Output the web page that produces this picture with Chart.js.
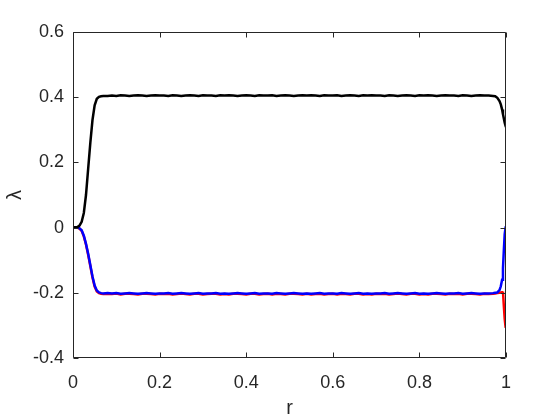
<!DOCTYPE html>
<html>
<head>
<meta charset="utf-8">
<script src="https://cdn.jsdelivr.net/npm/chart.js@4/dist/chart.umd.min.js"></script>
<style>
html,body{margin:0;padding:0;background:#fff;}
#wrap{width:560px;height:420px;}
</style>
</head>
<body>
<div id="wrap"><canvas id="c" width="560" height="420"></canvas></div>
<script>
// ---- data ----
const rValues = [
  0,0.005,0.01,0.015,0.02,0.025,0.03,0.035,0.04,0.045,0.05,0.055,0.06,0.065,0.07,
  0.08,0.09,0.10,0.11,0.12,0.13,0.14,0.15,0.16,0.17,
  0.18,0.19,0.20,0.21,0.22,0.23,0.24,0.25,0.26,0.27,
  0.28,0.29,0.30,0.31,0.32,0.33,0.34,0.35,0.36,0.37,
  0.38,0.39,0.40,0.41,0.42,0.43,0.44,0.45,0.46,0.47,
  0.48,0.49,0.50,0.51,0.52,0.53,0.54,0.55,0.56,0.57,
  0.58,0.59,0.60,0.61,0.62,0.63,0.64,0.65,0.66,0.67,
  0.68,0.69,0.70,0.71,0.72,0.73,0.74,0.75,0.76,0.77,
  0.78,0.79,0.80,0.81,0.82,0.83,0.84,0.85,0.86,0.87,
  0.88,0.89,0.90,0.91,0.92,0.93,0.94,0.95,0.96,0.97,
  0.975,0.98,0.985,0.988,0.991,0.993,0.995,0.997,0.999,1.0
];
const lambdaBlack = [
  0,0.001,0.002,0.006,0.018,0.045,0.10,0.18,0.26,0.33,0.375,0.395,0.401,0.403,0.404,
  0.404,0.405,0.404,0.406,0.405,0.404,0.405,0.406,0.405,0.404,
  0.405,0.406,0.405,0.405,0.404,0.406,0.405,0.404,0.405,0.406,
  0.405,0.404,0.406,0.405,0.405,0.404,0.406,0.405,0.406,0.405,
  0.404,0.405,0.406,0.405,0.404,0.406,0.405,0.405,0.406,0.404,
  0.405,0.406,0.405,0.404,0.405,0.406,0.405,0.406,0.405,0.404,
  0.406,0.405,0.405,0.406,0.404,0.405,0.406,0.405,0.404,0.406,
  0.405,0.406,0.405,0.405,0.404,0.406,0.405,0.404,0.405,0.406,
  0.405,0.404,0.406,0.405,0.406,0.405,0.404,0.405,0.406,0.405,
  0.405,0.404,0.406,0.405,0.404,0.405,0.406,0.405,0.405,0.404,
  0.403,0.398,0.388,0.378,0.362,0.348,0.335,0.322,0.312,0.308
];
const lambdaBlue = [
  0,0,0,-0.002,-0.008,-0.025,-0.05,-0.08,-0.115,-0.15,-0.178,-0.193,-0.199,-0.201,-0.202,
  -0.201,-0.202,-0.201,-0.203,-0.202,-0.201,-0.202,-0.203,-0.202,-0.201,
  -0.202,-0.203,-0.202,-0.202,-0.201,-0.203,-0.202,-0.201,-0.202,-0.203,
  -0.202,-0.201,-0.203,-0.202,-0.202,-0.201,-0.203,-0.202,-0.203,-0.202,
  -0.201,-0.202,-0.203,-0.202,-0.201,-0.203,-0.202,-0.202,-0.203,-0.201,
  -0.202,-0.203,-0.202,-0.201,-0.202,-0.203,-0.202,-0.203,-0.202,-0.201,
  -0.203,-0.202,-0.202,-0.203,-0.201,-0.202,-0.203,-0.202,-0.201,-0.203,
  -0.202,-0.203,-0.202,-0.202,-0.201,-0.203,-0.202,-0.201,-0.202,-0.203,
  -0.202,-0.201,-0.203,-0.202,-0.203,-0.202,-0.201,-0.202,-0.203,-0.202,
  -0.202,-0.201,-0.203,-0.202,-0.201,-0.202,-0.203,-0.202,-0.202,-0.201,
  -0.200,-0.199,-0.192,-0.180,-0.160,-0.125,-0.070,-0.020,0.0,0.0
];
const lambdaRed = [
  0,0,0,-0.003,-0.010,-0.027,-0.052,-0.083,-0.118,-0.153,-0.181,-0.196,-0.201,-0.203,-0.204,
  -0.203,-0.204,-0.202,-0.205,-0.203,-0.203,-0.204,-0.205,-0.203,-0.203,
  -0.204,-0.205,-0.203,-0.204,-0.203,-0.205,-0.204,-0.202,-0.204,-0.205,
  -0.203,-0.203,-0.205,-0.204,-0.203,-0.203,-0.205,-0.204,-0.205,-0.203,
  -0.203,-0.204,-0.205,-0.203,-0.203,-0.205,-0.204,-0.203,-0.205,-0.203,
  -0.204,-0.205,-0.203,-0.203,-0.204,-0.205,-0.203,-0.205,-0.204,-0.203,
  -0.205,-0.204,-0.203,-0.205,-0.203,-0.204,-0.205,-0.203,-0.203,-0.205,
  -0.204,-0.205,-0.203,-0.204,-0.203,-0.205,-0.204,-0.202,-0.204,-0.205,
  -0.203,-0.203,-0.205,-0.204,-0.205,-0.203,-0.203,-0.204,-0.205,-0.203,
  -0.204,-0.203,-0.205,-0.203,-0.203,-0.204,-0.205,-0.203,-0.204,-0.203,
  -0.202,-0.201,-0.200,-0.199,-0.198,-0.196,-0.240,-0.280,-0.305,-0.306
];
const xTicks = [0,0.2,0.4,0.6,0.8,1];
const yTicks = [-0.4,-0.2,0,0.2,0.4,0.6];
const xLabel = 'r';
const yLabel = 'λ';

// ---- chart ----
const axisColor = '#262626';
const fmt = v => String(Number(v.toFixed(1)));
const toPts = ys => rValues.map((r,i)=>({x:r,y:ys[i]}));

const boxPlugin = {
  id:'matlabBox',
  afterDatasetsDraw(chart){
    const {ctx, chartArea:a, scales} = chart;
    const L = Math.round(a.left)+0.5, R = Math.round(a.right)-0.5;
    const T = Math.round(a.top)+0.5, B = Math.round(a.bottom)-0.5;
    ctx.save();
    ctx.strokeStyle = axisColor;
    ctx.lineWidth = 1;
    ctx.beginPath();
    ctx.rect(L, T, R-L, B-T);
    const tl = 5;
    xTicks.forEach(v=>{
      const px = Math.round(scales.x.getPixelForValue(v))+0.5;
      ctx.moveTo(px,B); ctx.lineTo(px,B-tl);
      ctx.moveTo(px,T); ctx.lineTo(px,T+tl);
    });
    yTicks.forEach(v=>{
      const py = Math.round(scales.y.getPixelForValue(v))+0.5;
      ctx.moveTo(L,py); ctx.lineTo(L+tl,py);
      ctx.moveTo(R,py); ctx.lineTo(R-tl,py);
    });
    ctx.stroke();
    ctx.restore();
  }
};

new Chart(document.getElementById('c'), {
  type:'line',
  data:{
    datasets:[
      {data:toPts(lambdaBlack), borderColor:'#000000', borderWidth:2.5, pointRadius:0, tension:0, order:1},
      {data:toPts(lambdaBlue), borderColor:'#0000ff', borderWidth:2.5, pointRadius:0, tension:0, order:2},
      {data:toPts(lambdaRed), borderColor:'#ff0000', borderWidth:2.5, pointRadius:0, tension:0, order:3}
    ]
  },
  options:{
    responsive:false,
    animation:false,
    events:[],
    layout:{padding:{top:32,right:54,left:0,bottom:0}},
    plugins:{legend:{display:false}, tooltip:{enabled:false}},
    scales:{
      x:{
        type:'linear', min:0, max:1,
        afterBuildTicks: s => { s.ticks = xTicks.map(v=>({value:v})); },
        afterFit: s => { s.height = 62; },
        grid:{display:false, drawTicks:false},
        border:{display:false},
        ticks:{color:axisColor, padding:14, maxRotation:0, font:{family:'"Liberation Sans", Arial, sans-serif', size:18}, callback:v=>fmt(v)},
        title:{display:true, text:xLabel, color:axisColor, padding:{top:0,bottom:0}, font:{family:'"Liberation Sans", Arial, sans-serif', size:20}}
      },
      y:{
        type:'linear', min:-0.4, max:0.6,
        afterBuildTicks: s => { s.ticks = yTicks.map(v=>({value:v})); },
        afterFit: s => { s.width = 73; },
        grid:{display:false, drawTicks:false},
        border:{display:false},
        ticks:{color:axisColor, padding:9, font:{family:'"Liberation Sans", Arial, sans-serif', size:18}, callback:v=>fmt(v)},
        title:{display:true, text:yLabel, color:axisColor, padding:{top:3,bottom:0}, font:{family:'"Liberation Sans", Arial, sans-serif', size:20}}
      }
    }
  },
  plugins:[boxPlugin]
});
</script>
</body>
</html>
